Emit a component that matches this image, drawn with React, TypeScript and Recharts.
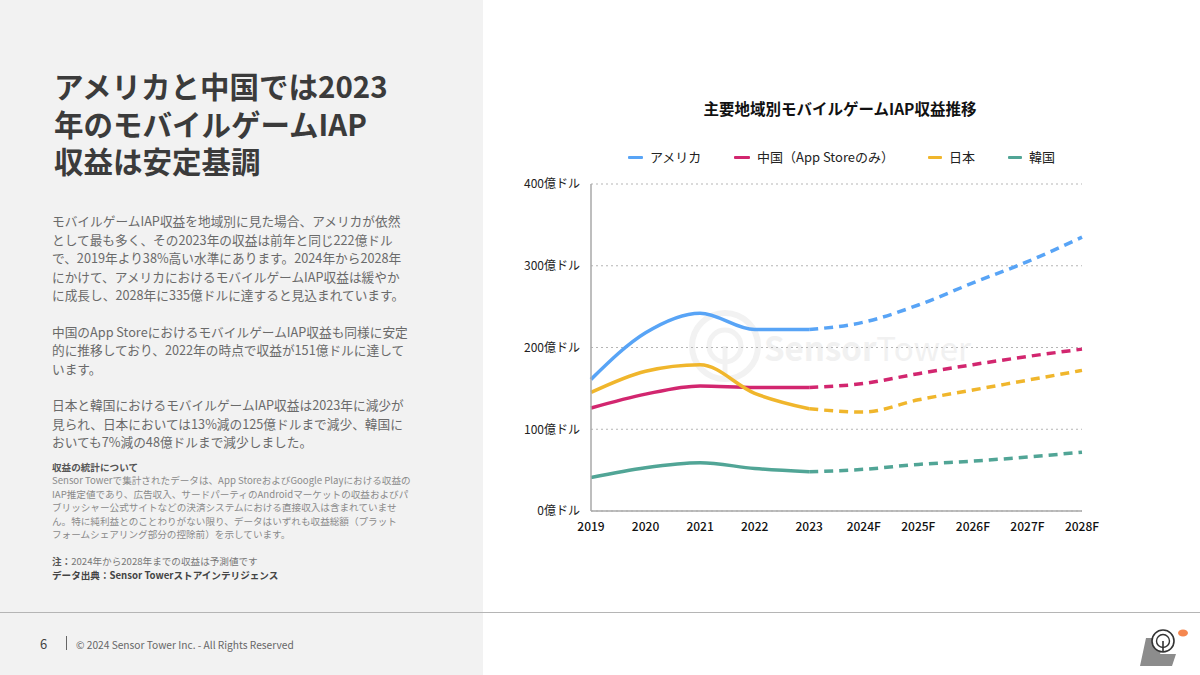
import React from 'react'
import { LineChart, Line, XAxis, YAxis, CartesianGrid } from 'recharts'

const years = ['2019', '2020', '2021', '2022', '2023', '2024F', '2025F', '2026F', '2027F', '2028F']

// 実績 (2019–2023) と予測 (2023–2028F)、単位: 億ドル
const usActual = [161, 218, 242, 222, 222]
const usForecast = [222, 231, 252, 279, 305, 335]
const cnActual = [126, 143, 153, 151, 151]
const cnForecast = [151, 156, 168, 179, 189, 198]
const jpActual = [145, 171, 179, 144, 125]
const jpForecast = [125, 121, 136, 148, 160, 172]
const krActual = [41, 53, 59, 52, 48]
const krForecast = [48, 51, 57, 61, 66, 72]

const yTicks = [0, 100, 200, 300, 400]

const series = [
  { key: 'us', name: 'アメリカ', color: '#58a4f6', actual: usActual, forecast: usForecast },
  { key: 'cn', name: '中国（App Storeのみ）', color: '#d2266f', actual: cnActual, forecast: cnForecast },
  { key: 'jp', name: '日本', color: '#f0b62c', actual: jpActual, forecast: jpForecast },
  { key: 'kr', name: '韓国', color: '#51a596', actual: krActual, forecast: krForecast },
]

const FORECAST_START = 4 // index of 2023

const rows = years.map((year, i) => {
  const row: Record<string, string | number | null> = { year }
  series.forEach((s) => {
    row[s.key + 'A'] = i < s.actual.length ? s.actual[i] : null
    row[s.key + 'F'] = i >= FORECAST_START ? s.forecast[i - FORECAST_START] : null
  })
  return row
})

const FONT = '"Noto Sans CJK JP", "Noto Sans", sans-serif'

const bodyLines = [
  ['モバイルゲームIAP収益を地域別に見た場合、アメリカが依然',
    'として最も多く、その2023年の収益は前年と同じ222億ドル',
    'で、2019年より38%高い水準にあります。2024年から2028年',
    'にかけて、アメリカにおけるモバイルゲームIAP収益は緩やか',
    'に成長し、2028年に335億ドルに達すると見込まれています。'],
  ['中国のApp StoreにおけるモバイルゲームIAP収益も同様に安定',
    '的に推移しており、2022年の時点で収益が151億ドルに達して',
    'います。'],
  ['日本と韓国におけるモバイルゲームIAP収益は2023年に減少が',
    '見られ、日本においては13%減の125億ドルまで減少、韓国に',
    'おいても7%減の48億ドルまで減少しました。'],
]

const noteLines = [
  'Sensor Towerで集計されたデータは、App StoreおよびGoogle Playにおける収益の',
  'IAP推定値であり、広告収入、サードパーティのAndroidマーケットの収益およびパ',
  'ブリッシャー公式サイトなどの決済システムにおける直接収入は含まれていませ',
  'ん。特に純利益とのことわりがない限り、データはいずれも収益総額（プラット',
  'フォームシェアリング部分の控除前）を示しています。',
]

function abs(left: number, top: number, extra: React.CSSProperties = {}): React.CSSProperties {
  return { position: 'absolute', left, top, whiteSpace: 'nowrap', ...extra }
}

export default function App() {
  return (
    <div style={{ position: 'absolute', left: 0, top: 0, width: 1200, height: 675, background: '#ffffff', fontFamily: FONT, overflow: 'hidden' }}>
      {/* left text panel */}
      <div style={abs(0, 0, { width: 483, height: 675, background: '#f2f2f2' })} />

      <div style={abs(54, 67, { fontSize: 29.5, fontWeight: 700, color: '#3b3b3b', lineHeight: '37.5px' })}>
        <div>アメリカと中国では2023</div>
        <div>年のモバイルゲームIAP</div>
        <div>収益は安定基調</div>
      </div>

      <div style={abs(52, 212, { fontSize: 12.7, color: '#6a6a6a', lineHeight: '18.5px' })}>
        {bodyLines.map((para, pi) => (
          <div key={pi} style={{ marginBottom: pi < bodyLines.length - 1 ? 18 : 0 }}>
            {para.map((l, li) => (
              <div key={li}>{l}</div>
            ))}
          </div>
        ))}
      </div>

      <div style={abs(52, 461, { fontSize: 9.6, color: '#8a8a8a', lineHeight: '13.4px' })}>
        <div style={{ fontWeight: 700, color: '#555' }}>収益の統計について</div>
        {noteLines.map((l, i) => (
          <div key={i}>{l}</div>
        ))}
        <div style={{ height: 14 }} />
        <div style={{ color: '#777' }}>
          <span style={{ fontWeight: 700, color: '#555' }}>注：</span>2024年から2028年までの収益は予測値です
        </div>
        <div style={{ fontWeight: 700, color: '#444' }}>データ出典：Sensor Towerストアインテリジェンス</div>
      </div>

      {/* footer */}
      <div style={abs(0, 612, { width: 1200, height: 1, background: '#b5b5b5' })} />
      <div style={abs(40, 634, { fontSize: 13, color: '#444' })}>6</div>
      <div style={abs(66, 636, { width: 1, height: 14, background: '#666' })} />
      <div style={abs(76, 637, { fontSize: 10.2, color: '#666' })}>© 2024 Sensor Tower Inc. - All Rights Reserved</div>
      <svg style={abs(1136, 624)} width={56} height={46}>
        <path d="M10 14 L30 14 L24 30 L40 30 L36 42 L4 42 Z" fill="#8c8c8c" />
        <circle cx={27} cy={17} r={11} fill="#ffffff" stroke="#333" strokeWidth={1.6} />
        <circle cx={27} cy={17} r={6.5} fill="none" stroke="#333" strokeWidth={1.4} />
        <line x1={27} y1={17} x2={27} y2={28} stroke="#333" strokeWidth={1.6} />
        <ellipse cx={47} cy={9} rx={5} ry={3.5} fill="#f5874f" />
      </svg>

      {/* chart title + legend */}
      <div style={abs(500, 97, { width: 680, textAlign: 'center', fontSize: 15.5, fontWeight: 700, color: '#111' })}>
        主要地域別モバイルゲームIAP収益推移
      </div>
      {[
        { x: 628, w: 15 },
        { x: 734, w: 16 },
        { x: 928, w: 14 },
        { x: 1008, w: 14 },
      ].map((m, i) => (
        <React.Fragment key={series[i].key}>
          <div style={abs(m.x, 156, { width: m.w, height: 3, borderRadius: 1, background: series[i].color })} />
          <div style={abs(m.x + m.w + 7, 147, { fontSize: 13, color: '#222' })}>{series[i].name}</div>
        </React.Fragment>
      ))}

      {/* watermark */}
      <svg style={abs(680, 300)} width={320} height={90}>
        <circle cx={45} cy={46} r={33} fill="none" stroke="#f2f2f2" strokeWidth={6} />
        <circle cx={45} cy={46} r={16} fill="none" stroke="#f2f2f2" strokeWidth={5} />
        <line x1={45} y1={46} x2={45} y2={79} stroke="#f2f2f2" strokeWidth={5} />
        <text x={84} y={61} fontFamily={FONT} fontSize={33} fill="#f1f1f1">
          <tspan fontWeight={700}>Sensor</tspan>
          <tspan fontWeight={400}>Tower</tspan>
        </text>
      </svg>

      <div style={abs(500, 170)}>
        <LineChart width={600} height={375} data={rows} margin={{ top: 14, right: 18, left: 0, bottom: 4 }}>
          <CartesianGrid vertical={false} stroke="#b5b5b5" strokeDasharray="2 3" />
          <XAxis
            dataKey="year"
            height={30}
            axisLine={{ stroke: '#a8a8a8', strokeWidth: 1.5 }}
            tickLine={false}
            tickSize={0}
            tickMargin={11}
            interval={0}
            tick={{ fill: '#111', fontSize: 12, fontWeight: 500, fontFamily: FONT }}
          />
          <YAxis
            width={91}
            domain={[0, 400]}
            ticks={yTicks}
            axisLine={{ stroke: '#a8a8a8', strokeWidth: 1.5 }}
            tickLine={false}
            tickSize={0}
            tickMargin={11}
            tickFormatter={(v: number) => `${v}億ドル`}
            tick={{ fill: '#222', fontSize: 12, fontFamily: FONT }}
          />
          {series.map((s) => (
            <Line
              key={s.key + 'A'}
              dataKey={s.key + 'A'}
              type="monotone"
              stroke={s.color}
              strokeWidth={3.5}
              dot={false}
              activeDot={false}
              connectNulls={false}
              isAnimationActive={false}
            />
          ))}
          {series.map((s) => (
            <Line
              key={s.key + 'F'}
              dataKey={s.key + 'F'}
              type="monotone"
              stroke={s.color}
              strokeWidth={3.5}
              strokeDasharray="9 6"
              dot={false}
              activeDot={false}
              connectNulls={false}
              isAnimationActive={false}
            />
          ))}
        </LineChart>
      </div>
    </div>
  )
}
